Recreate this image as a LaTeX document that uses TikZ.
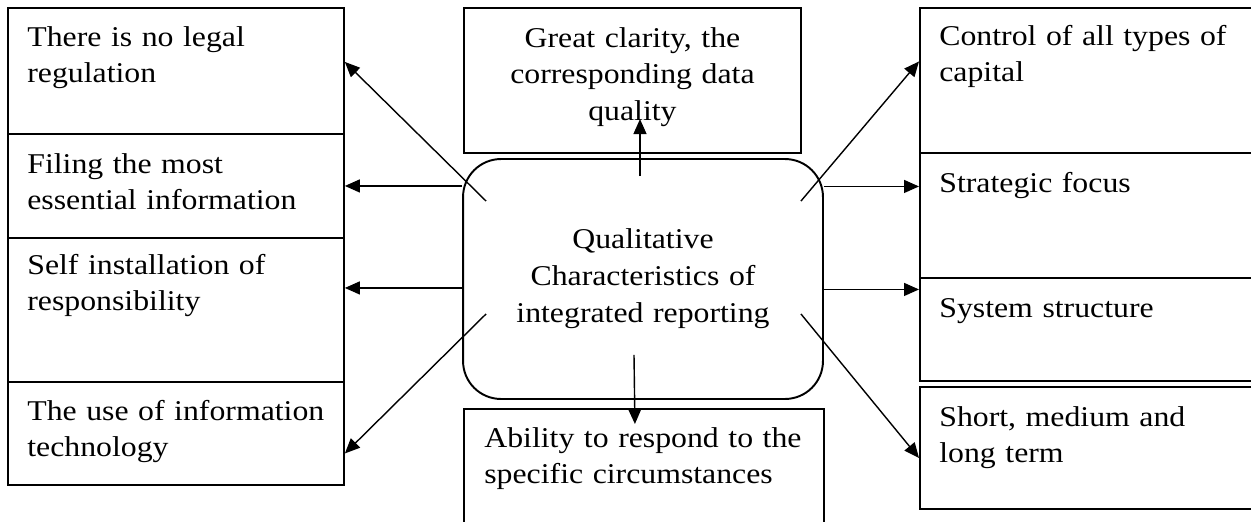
\documentclass[tikz,border=0pt]{standalone}
\usepackage{fontspec}
\setmainfont{Liberation Serif}[FakeStretch=1.11]
\usetikzlibrary{arrows.meta}
\begin{document}
\begin{tikzpicture}[x=0.02cm, y=-0.02cm,
          font=\fontsize{16.3pt}{21pt}\selectfont,
          box/.style={draw, line width=1.1pt, anchor=north west, inner sep=0pt},
          core box/.style={draw, line width=1.1pt, rounded corners=0.76cm, inner sep=0pt,
                           minimum width=7.2cm, minimum height=4.8cm},
          item/.style={inner sep=0pt, text width=6.4cm, align=left, anchor=base west},
          link/.style={line width=0.8pt, -{Triangle[length=0.3cm, width=0.26cm]}}]
          \useasboundingbox (0,0) rectangle (1251,521);
          \clip (0,0) rectangle (1251,521);
          % left column
          \node[box, minimum width=6.72cm, minimum height=2.52cm] (l1) at (7,7) {};
          \node[box, minimum width=6.72cm, minimum height=2.08cm] (l2) at (7,133) {};
          \node[box, minimum width=6.72cm, minimum height=2.88cm] (l3) at (7,237) {};
          \node[box, minimum width=6.72cm, minimum height=2.06cm] (l4) at (7,381) {};
          \node[item] (l1t) at ([shift={(20,39)}]l1.north west) {There is no legal\\regulation};
          \node[item] (l2t) at ([shift={(20,40)}]l2.north west) {Filing the most\\essential information};
          \node[item] (l3t) at ([shift={(20,37)}]l3.north west) {Self installation of\\responsibility};
          \node[item] (l4t) at ([shift={(20,39)}]l4.north west) {The use of information\\technology};
          % middle column
          \node[box, minimum width=6.74cm, minimum height=2.9cm] (top) at (463,7) {};
          \node[item, text width=6.74cm, align=center, anchor=base] (topt) at ([shift={(0,40)}]top.north)
              {Great clarity, the\\corresponding data\\quality};
          \node[core box] (core) at (643,279) {};
          \node[inner sep=0pt, text width=7.2cm, align=center] (coret) at (core.center)
              {Qualitative\\Characteristics of\\integrated reporting};
          \node[box, minimum width=7.2cm, minimum height=2.8cm] (bot) at (463,408) {};
          \node[item] (bott) at ([shift={(21,39)}]bot.north west) {Ability to respond to the\\specific circumstances};
          % right column
          \node[box, minimum width=7.1cm, minimum height=2.9cm] (r1) at (919,7) {};
          \node[box, minimum width=7.1cm, minimum height=2.5cm] (r2) at (919,152) {};
          \node[box, minimum width=7.1cm, minimum height=2.06cm] (r3) at (919,277) {};
          \node[box, minimum width=7.1cm, minimum height=2.44cm] (r4) at (919,386) {};
          \node[item] (r1t) at ([shift={(20,38)}]r1.north west) {Control of all types of\\capital};
          \node[item] (r2t) at ([shift={(20,40)}]r2.north west) {Strategic focus};
          \node[item] (r3t) at ([shift={(20,40)}]r3.north west) {System structure};
          \node[item] (r4t) at ([shift={(20,40)}]r4.north west) {Short, medium and\\long term};
          % arrows
          \coordinate (l3in) at ([shift={(0,-22)}]l3.east);
          \coordinate (r2in) at ([shift={(0,-29)}]r2.west);
          \coordinate (r3in) at ([shift={(0,-40)}]r3.west);
          \draw[link] ([shift={(24,43)}]core.north west) -- ([shift={(0,-9)}]l1.east);
          \draw[link] (core.west |- l2.east) -- (l2.east);
          \draw[link] (core.west |- l3in) -- (l3in);
          \draw[link] ([shift={(24,-86)}]core.south west) -- ([shift={(0,20)}]l4.east);
          \draw[link] ([shift={(-3,18)}]core.north) -- ([shift={(-3,-39)}]core.north);
          \draw[link] ([shift={(-9,-45)}]core.south) -- ([shift={(-9,16)}]bot.north);
          \draw[link] ([shift={(-23,43)}]core.north east) -- ([shift={(0,-19)}]r1.west);
          \draw[link] (core.east |- r2in) -- (r2in);
          \draw[link] (core.east |- r3in) -- (r3in);
          \draw[link] ([shift={(-23,-86)}]core.south east) -- ([shift={(0,10)}]r4.west);
\end{tikzpicture}
\end{document}
